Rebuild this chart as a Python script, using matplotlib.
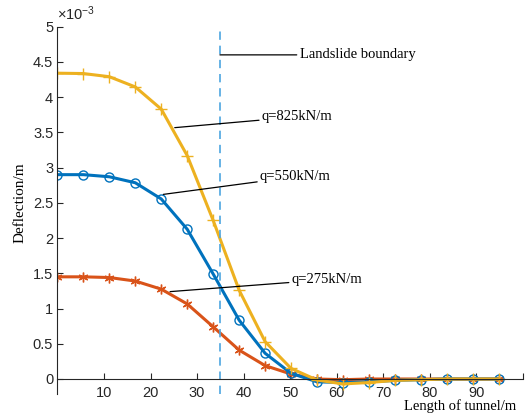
import numpy as np
import matplotlib
matplotlib.use('Agg')
import matplotlib.pyplot as plt

# tunnel length (m) at the computed points
length = np.linspace(0, 94.8, 18)

# deflection, x1e-3 m
q275 = [1.45, 1.45, 1.44, 1.39, 1.275, 1.065, 0.74, 0.41, 0.19, 0.07,
        0.0, -0.01, 0.0, 0.0, 0.0, 0.0, 0.0, 0.0]
q550 = [2.90, 2.90, 2.87, 2.785, 2.555, 2.125, 1.49, 0.835, 0.365, 0.08,
        -0.04, -0.05, -0.04, -0.02, -0.01, 0.0, 0.0, 0.0]
q825 = [4.34, 4.335, 4.29, 4.145, 3.83, 3.17, 2.25, 1.26, 0.53, 0.15,
        -0.015, -0.07, -0.05, -0.02, -0.01, 0.0, 0.0, 0.0]

boundary_x = 35

plt.rcParams['mathtext.fontset'] = 'custom'
plt.rcParams['mathtext.rm'] = 'Liberation Sans'
plt.rcParams['mathtext.it'] = 'Liberation Sans'

fig = plt.figure(figsize=(5.29, 4.15), dpi=100)
ax = fig.add_axes([0.1085, 0.0511, 0.8802, 0.8846])

# matlab-like asterisk: 6 spokes
ax.plot(length, q275, color='#D95319', lw=2.2, marker=(6, 2, 0), ms=7, mew=1)
ax.plot(length, q550, color='#0072BD', lw=2.2, marker='o', ms=6.5, mfc='none', mew=1)
ax.plot(length, q825, color='#EDB120', lw=2.2, marker='+', ms=8, mew=1)
ax.axvline(boundary_x, color='#4DA6E0', lw=1.2, dashes=(5, 3.5))

ax.set_xlim(0, 100)
ax.set_ylim(-0.21, 5)
ax.spines['top'].set_visible(False)
ax.spines['right'].set_visible(False)
ax.spines['bottom'].set_position(('data', 0))
ax.spines['left'].set_color('#262626')
ax.spines['bottom'].set_color('#262626')

ax.set_xticks(np.arange(10, 101, 10))
ax.set_xticklabels([str(v) for v in range(10, 100, 10)] + [''])
ax.set_yticks(np.arange(0, 5.01, 0.5))
ax.set_yticklabels(['0', '0.5', '1', '1.5', '2', '2.5', '3', '3.5', '4', '4.5', '5'])
ax.tick_params(direction='in', length=4, colors='#262626', labelsize=10.5,
               labelfontfamily='Liberation Sans')
ax.tick_params(axis='x', pad=5)
ax.tick_params(axis='y', pad=3)

ax.text(0, 1.01, r'$\times10^{-3}$', transform=ax.transAxes, ha='left', va='bottom',
        fontsize=10.5, color='#262626')

serif = 'Liberation Serif'
fig.text(20 / 529, 1 - 203 / 415, 'Deflection/m', rotation=90, ha='center', va='center',
         fontsize=11, family=serif)
fig.text(460 / 529, 1 - 406 / 415, 'Length of tunnel/m', ha='center', va='center',
         fontsize=10.5, family=serif)

notes = [
    ('Landslide boundary', (34.9, 4.6), (52.0, 4.6)),
    ('q=825kN/m', (25.2, 3.567), (43.9, 3.72)),
    ('q=550kN/m', (22.75, 2.62), (43.5, 2.87)),
    ('q=275kN/m', (24.2, 1.24), (50.3, 1.41)),
]
for label, xy, xytext in notes:
    ax.annotate(label, xy=xy, xytext=xytext, ha='left', va='center', fontsize=10.5,
                family=serif, arrowprops=dict(arrowstyle='-', color='black', lw=0.9,
                                              shrinkA=0, shrinkB=0))

fig.savefig('out.png', dpi=100)
